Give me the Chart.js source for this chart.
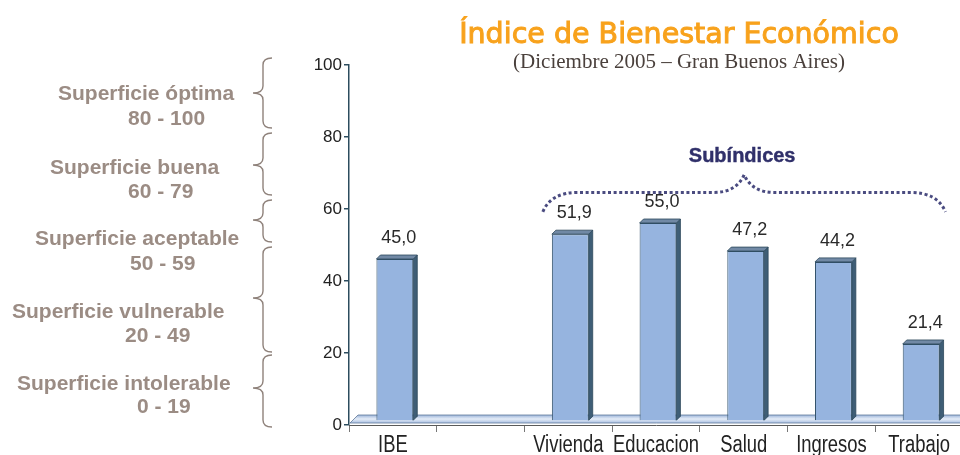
<!DOCTYPE html>
<html>
<head>
<meta charset="utf-8">
<script src="https://cdn.jsdelivr.net/npm/chart.js@4.4.1/dist/chart.umd.min.js"></script>
<style>
html,body{margin:0;padding:0;background:#fff;overflow:hidden;width:960px;height:455px;}
#wrap{position:relative;width:960px;height:455px;overflow:hidden;}
canvas{display:block;}
</style>
</head>
<body>
<div id="wrap"><canvas id="c" width="970" height="455" style="width:970px;height:455px"></canvas></div>
<script>
// ---- data ----
const categories = ['IBE', '', 'Vivienda', 'Educacion', 'Salud', 'Ingresos', 'Trabajo'];
const values = [45.0, null, 51.9, 55.0, 47.2, 44.2, 21.4];
const yTicks = [0, 20, 40, 60, 80, 100];
const titleText = 'Índice de Bienestar Económico';
const subtitleText = '(Diciembre 2005 – Gran Buenos Aires)';
const groupLabel = 'Subíndices';
const bandNames = ['Superficie óptima', 'Superficie buena', 'Superficie aceptable', 'Superficie vulnerable', 'Superficie intolerable'];
const bandRanges = ['80 - 100', '60 - 79', '50 - 59', '20 - 49', '0 - 19'];

// ---- decoration layout (pixels) ----
const bandLayout = [
  {x1: 58, y1: 100, x2: 128, y2: 125, top: 58, tip: 93, bot: 128},
  {x1: 50, y1: 174, x2: 128, y2: 198, top: 133, tip: 165, bot: 195},
  {x1: 35, y1: 245, x2: 130, y2: 270, top: 200, tip: 220, bot: 242},
  {x1: 12, y1: 318, x2: 125, y2: 342, top: 247, tip: 298, bot: 352},
  {x1: 17, y1: 390, x2: 137, y2: 413, top: 355, tip: 388, bot: 427}
];
const SHIFT_X = 2, SHIFT_Y = -4, DEPTH = 4;

function fmt(v){ return v.toFixed(1).replace('.', ','); }

function brace(ctx, xb, top, tip, bot){
  const xr = xb + 9, xt = xb - 10, r = 7;
  ctx.beginPath();
  ctx.moveTo(xr, top);
  ctx.quadraticCurveTo(xb, top, xb, top + r);
  ctx.lineTo(xb, tip - r);
  ctx.quadraticCurveTo(xb, tip, xt, tip);
  ctx.quadraticCurveTo(xb, tip, xb, tip + r);
  ctx.lineTo(xb, bot - r);
  ctx.quadraticCurveTo(xb, bot, xr, bot);
  ctx.stroke();
}

const deco = {
  id: 'deco',
  beforeDatasetsDraw(chart){
    const ctx = chart.ctx, a = chart.chartArea, y0 = chart.scales.y.getPixelForValue(0);
    ctx.save();
    // 3D floor
    const ft = y0 - 10, fb = y0 - 2;
    const g = ctx.createLinearGradient(0, ft, 0, fb);
    g.addColorStop(0, '#9db5da');
    g.addColorStop(0.5, '#e4ecf7');
    g.addColorStop(1, '#aac0e2');
    ctx.beginPath();
    ctx.moveTo(a.left + 1, fb);
    ctx.lineTo(a.left + 9, ft);
    ctx.lineTo(a.right, ft);
    ctx.lineTo(a.right, fb);
    ctx.closePath();
    ctx.fillStyle = g; ctx.fill();
    ctx.strokeStyle = '#5f7899'; ctx.lineWidth = 0.8; ctx.stroke();
    ctx.translate(SHIFT_X, SHIFT_Y);
  },
  afterDatasetsDraw(chart){
    const ctx = chart.ctx;
    ctx.restore();
    const meta = chart.getDatasetMeta(0);
    const ys = chart.scales.y;
    ctx.save();
    meta.data.forEach((bar, i) => {
      const v = values[i];
      if (v === null || v === undefined) return;
      const p = bar.getProps(['x','y','base','width'], true);
      const l = p.x - p.width/2 + SHIFT_X, r = p.x + p.width/2 + SHIFT_X;
      const t = p.y + SHIFT_Y, b = p.base + SHIFT_Y;
      // side
      ctx.beginPath();
      ctx.moveTo(r, t); ctx.lineTo(r + DEPTH, t - DEPTH); ctx.lineTo(r + DEPTH, b - DEPTH); ctx.lineTo(r, b); ctx.closePath();
      ctx.fillStyle = '#3f5e76'; ctx.fill();
      ctx.strokeStyle = '#2c475b'; ctx.lineWidth = 0.8; ctx.stroke();
      // top
      ctx.beginPath();
      ctx.moveTo(l, t); ctx.lineTo(l + DEPTH, t - DEPTH); ctx.lineTo(r + DEPTH, t - DEPTH); ctx.lineTo(r, t); ctx.closePath();
      ctx.fillStyle = '#7189a5'; ctx.fill(); ctx.stroke();
      // value label
      ctx.fillStyle = '#2a2a2a';
      ctx.font = '18px "Liberation Sans", Arial, sans-serif';
      ctx.textAlign = 'center'; ctx.textBaseline = 'middle';
      ctx.fillText(fmt(v), p.x + SHIFT_X + 4, ys.getPixelForValue(v) - 25);
    });
    ctx.restore();
  },
  afterDraw(chart){
    const ctx = chart.ctx, xs = chart.scales.x, ys = chart.scales.y;
    ctx.save();
    // category labels (condensed)
    ctx.font = '23px "Liberation Sans", Arial, sans-serif';
    ctx.fillStyle = '#222'; ctx.textAlign = 'center'; ctx.textBaseline = 'alphabetic';
    categories.forEach((c, i) => {
      if (!c) return;
      ctx.save();
      ctx.translate(xs.getPixelForValue(i), 452);
      ctx.scale(0.8, 1);
      ctx.fillText(c, 0, 0);
      ctx.restore();
    });
    // title
    ctx.textAlign = 'center'; ctx.textBaseline = 'alphabetic';
    ctx.font = '28.5px "DejaVu Sans", sans-serif';
    ctx.fillStyle = '#f8a21c'; ctx.strokeStyle = '#f8a21c'; ctx.lineWidth = 1;
    ctx.fillText(titleText, 679, 43);
    ctx.strokeText(titleText, 679, 43);
    ctx.font = '21px "Liberation Serif", "Times New Roman", serif';
    ctx.fillStyle = '#4a403c';
    ctx.fillText(subtitleText, 679, 68);

    // left bands
    ctx.textAlign = 'left';
    ctx.font = 'bold 21px "Liberation Sans", Arial, sans-serif';
    ctx.fillStyle = '#9b8c84';
    bandLayout.forEach((b, i) => {
      ctx.fillText(bandNames[i], b.x1, b.y1);
      ctx.fillText(bandRanges[i], b.x2, b.y2);
    });
    ctx.strokeStyle = '#8f827b'; ctx.lineWidth = 1.4;
    bandLayout.forEach(b => brace(ctx, 263, b.top, b.tip, b.bot));

    // subindices brace (dotted)
    const cw = xs.getPixelForValue(1) - xs.getPixelForValue(0);
    const L = xs.getPixelForValue(2) - 0.29*cw, R = xs.getPixelForValue(6) + 0.30*cw;
    const M = (L + R) / 2;
    const yEnd = ys.getPixelForValue(59.2), yMid = ys.getPixelForValue(64.6), yPeak = ys.getPixelForValue(69.5);
    ctx.strokeStyle = '#4a4b80'; ctx.lineWidth = 3; ctx.setLineDash([3, 2.6]);
    ctx.beginPath();
    ctx.moveTo(L, yEnd);
    ctx.quadraticCurveTo(L + 8, yMid, L + 35, yMid);
    ctx.lineTo(M - 30, yMid);
    ctx.quadraticCurveTo(M - 8, yMid, M, yPeak);
    ctx.quadraticCurveTo(M + 8, yMid, M + 30, yMid);
    ctx.lineTo(R - 35, yMid);
    ctx.quadraticCurveTo(R - 8, yMid, R, yEnd);
    ctx.stroke();
    ctx.setLineDash([]);
    ctx.font = 'bold 20px "Liberation Sans", Arial, sans-serif';
    ctx.fillStyle = '#30306a'; ctx.strokeStyle = '#30306a'; ctx.lineWidth = 0.4; ctx.textAlign = 'center';
    ctx.fillText(groupLabel, M - 2, ys.getPixelForValue(75) + 7);
    ctx.strokeText(groupLabel, M - 2, ys.getPixelForValue(75) + 7);
    ctx.restore();
  }
};

new Chart(document.getElementById('c'), {
  type: 'bar',
  data: {
    labels: categories,
    datasets: [{
      data: values,
      backgroundColor: '#96b4df',
      borderColor: '#33526a',
      borderWidth: 1,
      barPercentage: 0.42,
      categoryPercentage: 1.0
    }]
  },
  options: {
    responsive: false,
    devicePixelRatio: 1,
    animation: false,
    layout: {padding: {left: 0, right: 7, top: 65, bottom: 0}},
    plugins: {legend: {display: false}, tooltip: {enabled: false}, title: {display: false}},
    scales: {
      x: {
        offset: true,
        grid: {offset: true, drawOnChartArea: false, drawTicks: true, tickLength: 7, color: '#777'},
        border: {color: '#5a5a5a', width: 1},
        ticks: {color: 'rgba(0,0,0,0)', font: {family: '"Liberation Sans", Arial', size: 12}, padding: 2, maxRotation: 0, autoSkip: false},
        afterFit(s){ s.height = 30; }
      },
      y: {
        min: 0, max: 100,
        afterBuildTicks(s){ s.ticks = yTicks.map(v => ({value: v})); },
        grid: {drawOnChartArea: false, drawTicks: true, tickLength: 5, color: '#2c4c5e', lineWidth: 1.5},
        border: {color: '#2c4c5e', width: 1.5},
        ticks: {color: '#222', font: {family: '"Liberation Sans", Arial', size: 17}, padding: 2},
        afterFit(s){ s.width = 349; }
      }
    }
  },
  plugins: [deco]
});
</script>
</body>
</html>
